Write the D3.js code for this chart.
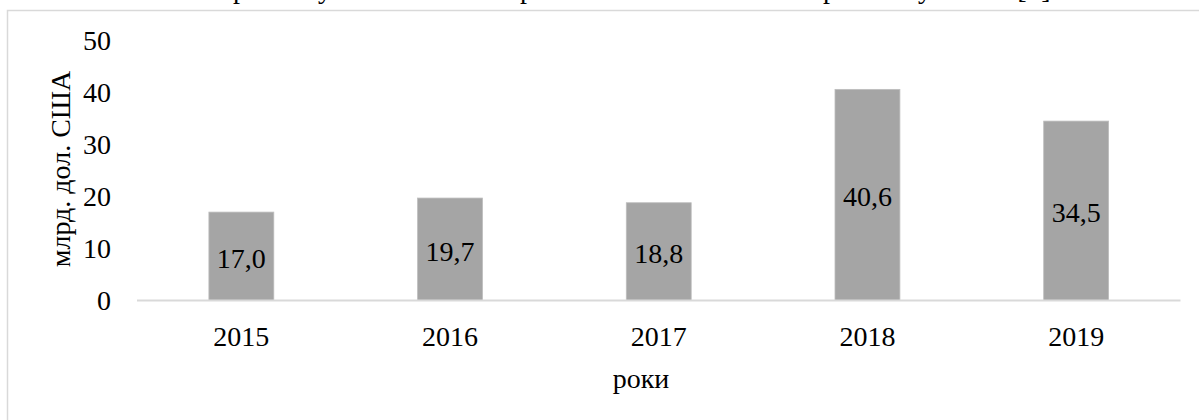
<!DOCTYPE html>
<html>
<head>
<meta charset="utf-8">
<script src="https://cdn.jsdelivr.net/npm/d3@7"></script>
<style>
  html, body { margin: 0; padding: 0; background: #fff; }
  svg { display: block; font-family: "Liberation Serif", "Times New Roman", serif; }
</style>
</head>
<body>
<svg id="chart" width="1199" height="420"></svg>
<script>
// Years and values (billion USD)
const years = ["2015", "2016", "2017", "2018", "2019"];
const values = [17.0, 19.7, 18.8, 40.6, 34.5];
const yTicks = [0, 10, 20, 30, 40, 50];
const yTitle = "млрд. дол. США";
const xTitle = "роки";
// Tail of the caption line above the chart frame
const captionGlyphs = ["р", "у", "р", "р", "у", "[", "]"];
const captionX = [240, 325, 527, 830, 925, 1022, 1046];

const svg = d3.select("#chart");
const W = 1199, H = 420;
const fs = 28;

// caption line, mostly above the visible area
svg.append("g").selectAll("text")
  .data(captionGlyphs)
  .join("text")
  .attr("x", (d, i) => captionX[i])
  .attr("y", -2)
  .attr("text-anchor", "middle")
  .attr("font-size", fs)
  .attr("fill", "#000")
  .text(d => d);

// chart frame
svg.append("rect")
  .attr("x", 7.5).attr("y", 10.5)
  .attr("width", W + 50).attr("height", H + 50)
  .attr("fill", "none")
  .attr("stroke", "#d9d9d9")
  .attr("stroke-width", 1.5);

const x = d3.scaleBand().domain(years).range([137, 1180.5]).paddingInner(0.689).paddingOuter(0.3445);
const y = d3.scaleLinear().domain([0, 50]).range([300.5, 40.5]);

// bars
svg.append("g").selectAll("rect")
  .data(values)
  .join("rect")
  .attr("x", (d, i) => x(years[i]))
  .attr("y", d => y(d))
  .attr("width", x.bandwidth())
  .attr("height", d => y(0) - y(d))
  .attr("fill", "#a5a5a5")
  .attr("stroke", "#bdbdbd")
  .attr("stroke-width", 0.8);

// category axis line
svg.append("line")
  .attr("x1", 137).attr("x2", 1180.5)
  .attr("y1", y(0)).attr("y2", y(0))
  .attr("stroke", "#d9d9d9")
  .attr("stroke-width", 2);

// value axis labels
const yAxis = d3.axisLeft(y).tickValues(yTicks).tickFormat(d3.format("d")).tickSize(0).tickPadding(0);
const gy = svg.append("g").attr("transform", "translate(111,0)").call(yAxis);
gy.select(".domain").remove();
gy.selectAll("text")
  .attr("font-size", fs)
  .attr("font-family", "Liberation Serif, Times New Roman, serif")
  .attr("fill", "#000")
  .attr("dy", "0.33em");

// category axis labels
const xAxis = d3.axisBottom(x).tickSize(0).tickPadding(0);
const gx = svg.append("g").attr("transform", "translate(0,346)").call(xAxis);
gx.select(".domain").remove();
gx.selectAll("text")
  .attr("font-size", fs)
  .attr("font-family", "Liberation Serif, Times New Roman, serif")
  .attr("fill", "#000")
  .attr("dy", 0);

// data labels in the middle of each bar
svg.append("g").selectAll("text")
  .data(values)
  .join("text")
  .attr("x", (d, i) => x(years[i]) + x.bandwidth() / 2)
  .attr("y", d => (y(d) + y(0)) / 2 + 11.5)
  .attr("text-anchor", "middle")
  .attr("font-size", fs)
  .attr("fill", "#000")
  .text(d => d.toFixed(1).replace(".", ","));

// axis titles
svg.append("text")
  .attr("transform", "translate(70,169) rotate(-90)")
  .attr("text-anchor", "middle")
  .attr("font-size", fs)
  .attr("fill", "#000")
  .text(yTitle);

svg.append("text")
  .attr("x", 641)
  .attr("y", 388)
  .attr("text-anchor", "middle")
  .attr("font-size", fs)
  .attr("fill", "#000")
  .text(xTitle);
</script>
</body>
</html>
